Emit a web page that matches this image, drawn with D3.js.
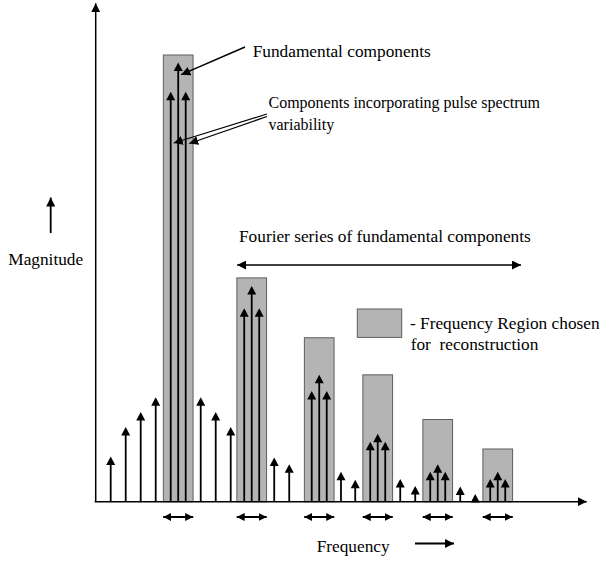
<!DOCTYPE html>
<html>
<head>
<meta charset="utf-8">
<script src="https://cdn.jsdelivr.net/npm/d3@7"></script>
<style>
body { margin: 0; background: #fff; }
text { font-family: "Liberation Serif", "Times New Roman", Times, serif; font-size: 17.3px; fill: #000; }
</style>
</head>
<body>
<div id="grafico"></div>
<script>
// regiones elegidas para la reconstruccion (una por armonico)
var regionCenters = [5.5, 10.4, 14.9, 18.8, 22.8, 26.8];
var regionHeights = [100, 50.1, 36.7, 28.4, 18.4, 11.8];
var fundamentalMags = [98.3, 48.3, 28.4, 15.2, 8.4, 6.7];
var variabilityMags = [91.8, 43.3, 24.8, 13.4, 6.7, 5.1];
// componentes fuera de las regiones
var otherFreqs = [1, 2, 3, 4, 7, 8, 9, 11.9, 12.9, 16.35, 17.3, 20.3, 21.3, 24.3, 25.3];
var otherMags = [10.1, 16.7, 20.1, 23.4, 23.4, 20.1, 16.7, 9.9, 8.4, 6.7, 4.9, 5.1, 3.5, 3.4, 1.7];
var sideOffset = 0.5;

var w = 601, h = 561;
var svg = d3.select("#grafico").append("svg").attr("width", w).attr("height", h);

var x = d3.scaleLinear().domain([0, 32.73]).range([95.7, 586.7]);
var y = d3.scaleLinear().domain([0, 100]).range([501.7, 55]);
var yMax = 111.6;

var defs = svg.append("defs");
function marker(id, size) {
    defs.append("marker")
            .attr("id", id)
            .attr("viewBox", "0 0 10 10")
            .attr("refX", 10)
            .attr("refY", 5)
            .attr("markerWidth", size)
            .attr("markerHeight", size)
            .attr("markerUnits", "userSpaceOnUse")
            .attr("orient", "auto-start-reverse")
            .append("path")
            .attr("d", "M0,0L10,5L0,10Z")
            .attr("fill", "#000");
}
marker("head", 9);
marker("small", 8);

// punta de flecha de cada componente
function tri(cx, tip, hw, hh) {
    return "M" + (cx - hw) + "," + (tip + hh) + "L" + cx + "," + tip + "L" + (cx + hw) + "," + (tip + hh) + "Z";
}

// eje vertical
svg.append("line")
        .attr("x1", x(0)).attr("y1", y(0))
        .attr("x2", x(0)).attr("y2", y(yMax))
        .attr("stroke", "#000").attr("stroke-width", 1.5)
        .attr("marker-end", "url(#head)");

// regiones grises
svg.append("g").selectAll("rect")
        .data(regionCenters)
        .enter()
        .append("rect")
        .attr("x", function (d) { return x(d - 0.99); })
        .attr("width", function (d) { return x(d + 0.99) - x(d - 0.99); })
        .attr("y", function (d, i) { return y(regionHeights[i]); })
        .attr("height", function (d, i) { return y(0) - y(regionHeights[i]); })
        .attr("fill", "#b4b4b4")
        .attr("stroke", "#5e5e5e")
        .attr("stroke-width", 1);

// eje horizontal
svg.append("line")
        .attr("x1", x(0) - 1).attr("y1", y(0))
        .attr("x2", x(32.73)).attr("y2", y(0))
        .attr("stroke", "#000").attr("stroke-width", 1.5)
        .attr("marker-end", "url(#head)");

// todas las componentes como flechas
var stems = [];
otherFreqs.forEach(function (f, i) { stems.push({f: f, m: otherMags[i]}); });
regionCenters.forEach(function (c, i) {
    stems.push({f: c, m: fundamentalMags[i]});
    stems.push({f: c - sideOffset, m: variabilityMags[i]});
    stems.push({f: c + sideOffset, m: variabilityMags[i]});
});

var st = svg.append("g").selectAll("g").data(stems).enter().append("g");
st.append("line")
        .attr("x1", function (d) { return x(d.f); })
        .attr("x2", function (d) { return x(d.f); })
        .attr("y1", y(0))
        .attr("y2", function (d) { return y(d.m) + 6; })
        .attr("stroke", "#000")
        .attr("stroke-width", 1.8);
st.append("path")
        .attr("d", function (d) { return tri(x(d.f), y(d.m), 4.5, 8.5); })
        .attr("fill", "#000");

// flechas dobles bajo cada region
svg.append("g").selectAll("line")
        .data(regionCenters)
        .enter()
        .append("line")
        .attr("x1", function (d) { return x(d - 1); })
        .attr("x2", function (d) { return x(d + 1); })
        .attr("y1", 517).attr("y2", 517)
        .attr("stroke", "#000").attr("stroke-width", 2)
        .attr("marker-start", "url(#small)")
        .attr("marker-end", "url(#small)");

// anotaciones
function arrow(x1, y1, x2, y2, m, sw) {
    svg.append("line")
            .attr("x1", x1).attr("y1", y1).attr("x2", x2).attr("y2", y2)
            .attr("stroke", "#000").attr("stroke-width", sw)
            .attr("marker-end", "url(#" + m + ")");
}
arrow(245, 47, x(regionCenters[0]) + 3, y(95.6), "head", 1.5);
arrow(267, 114, x(regionCenters[0] - sideOffset) + 3, y(80.3), "head", 1.2);
arrow(267, 116.5, x(regionCenters[0] + sideOffset) + 3.5, y(80.2), "head", 1.2);

svg.append("text").attr("x", 252.7).attr("y", 56.5).text("Fundamental components");
svg.append("text").attr("x", 268.5).attr("y", 108).style("font-size", "16px").text("Components incorporating pulse spectrum");
svg.append("text").attr("x", 268.5).attr("y", 130).style("font-size", "16px").text("variability");

svg.append("text").attr("x", 239).attr("y", 241.5).text("Fourier series of fundamental components");
svg.append("line")
        .attr("x1", x(9.43)).attr("x2", x(28.35))
        .attr("y1", 265).attr("y2", 265)
        .attr("stroke", "#000").attr("stroke-width", 1.5)
        .attr("marker-start", "url(#head)")
        .attr("marker-end", "url(#head)");

// leyenda
svg.append("rect")
        .attr("x", 357.3).attr("y", 309)
        .attr("width", 44.4).attr("height", 28.4)
        .attr("fill", "#b4b4b4").attr("stroke", "#5e5e5e");
svg.append("text").attr("x", 410).attr("y", 329).text("- Frequency Region chosen");
svg.append("text").attr("x", 410.7).attr("y", 350).attr("xml:space", "preserve").text("for  reconstruction");

// titulos de ejes
svg.append("text").attr("x", 8.3).attr("y", 264.5).text("Magnitude");
arrow(50.7, 233, 50.7, 197.5, "head", 1.8);
svg.append("text").attr("x", 316.7).attr("y", 552).text("Frequency");
arrow(415, 543.5, 454, 543.5, "head", 1.8);
</script>
</body>
</html>
